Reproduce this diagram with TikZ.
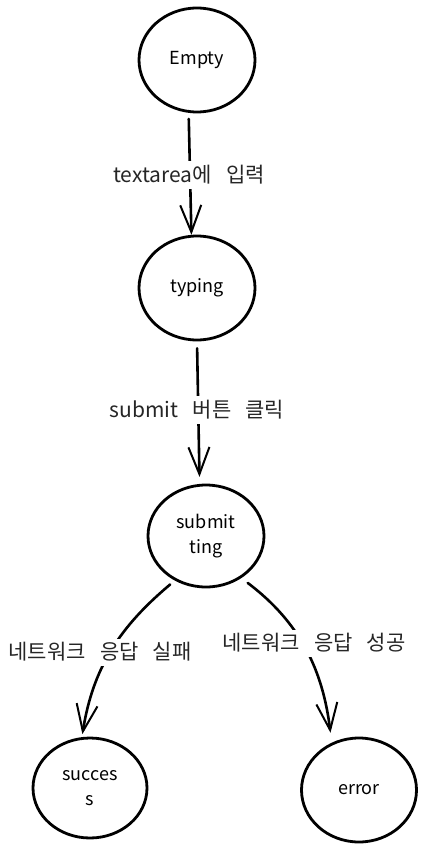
\documentclass[tikz,border=0pt]{standalone}
\usepackage{fontspec}
\setmainfont{Noto Sans CJK KR}[WordSpace=3]
\usetikzlibrary{shapes.geometric,arrows.meta}
\begin{document}
\begin{tikzpicture}[x=1pt,y=-1pt,
  state/.style={draw=black,line width=2.8pt,ellipse,inner sep=0pt,align=center,
    font=\fontsize{18}{25}\selectfont},
  lbl/.style={fill=white,inner sep=4pt,font=\fontsize{21}{24}\selectfont,text=black!85},
  conn/.style={draw=black,line width=2.6pt,line cap=round,
    -{Straight Barb[length=27pt,width=21pt,line width=2pt]}}]
\useasboundingbox (0,0) rectangle (426,853);
\fill[white] (0,0) rectangle (426,853);
% states
\node[state,minimum width=116pt,minimum height=104pt] (empty) at (197,60) {Empty};
\node[state,minimum width=116pt,minimum height=104pt] (typ) at (197,288) {typing};
\node[state,minimum width=116pt,minimum height=102pt] (sub) at (206,536) {submit\\ting};
\node[state,minimum width=114pt,minimum height=100pt] (suc) at (90,788) {succes\\s};
\node[state,minimum width=115pt,minimum height=104pt] (err) at (359,790) {error};
% connectors
\draw[conn,shorten <=6pt] (empty.261) -- (typ.96);
\draw[conn,shorten <=7pt,shorten >=7pt] (typ.270) -- (sub.97);
\draw[conn,shorten <=6pt,shorten >=3pt] (sub.235) to[out=220,in=81] (suc.99);
\draw[conn,shorten <=8pt,shorten >=10pt] (sub.310) to[out=323,in=97] (err.120);
% labels
\node[lbl] (l1) at (189,175) {textarea에 입력};
\node[lbl] (l2) at (197,410) {submit 버튼 클릭};
\node[lbl] (l3) at (100,652) {네트워크 응답 실패};
\node[lbl] (l4) at (314,643) {네트워크 응답 성공};
\end{tikzpicture}
\end{document}
